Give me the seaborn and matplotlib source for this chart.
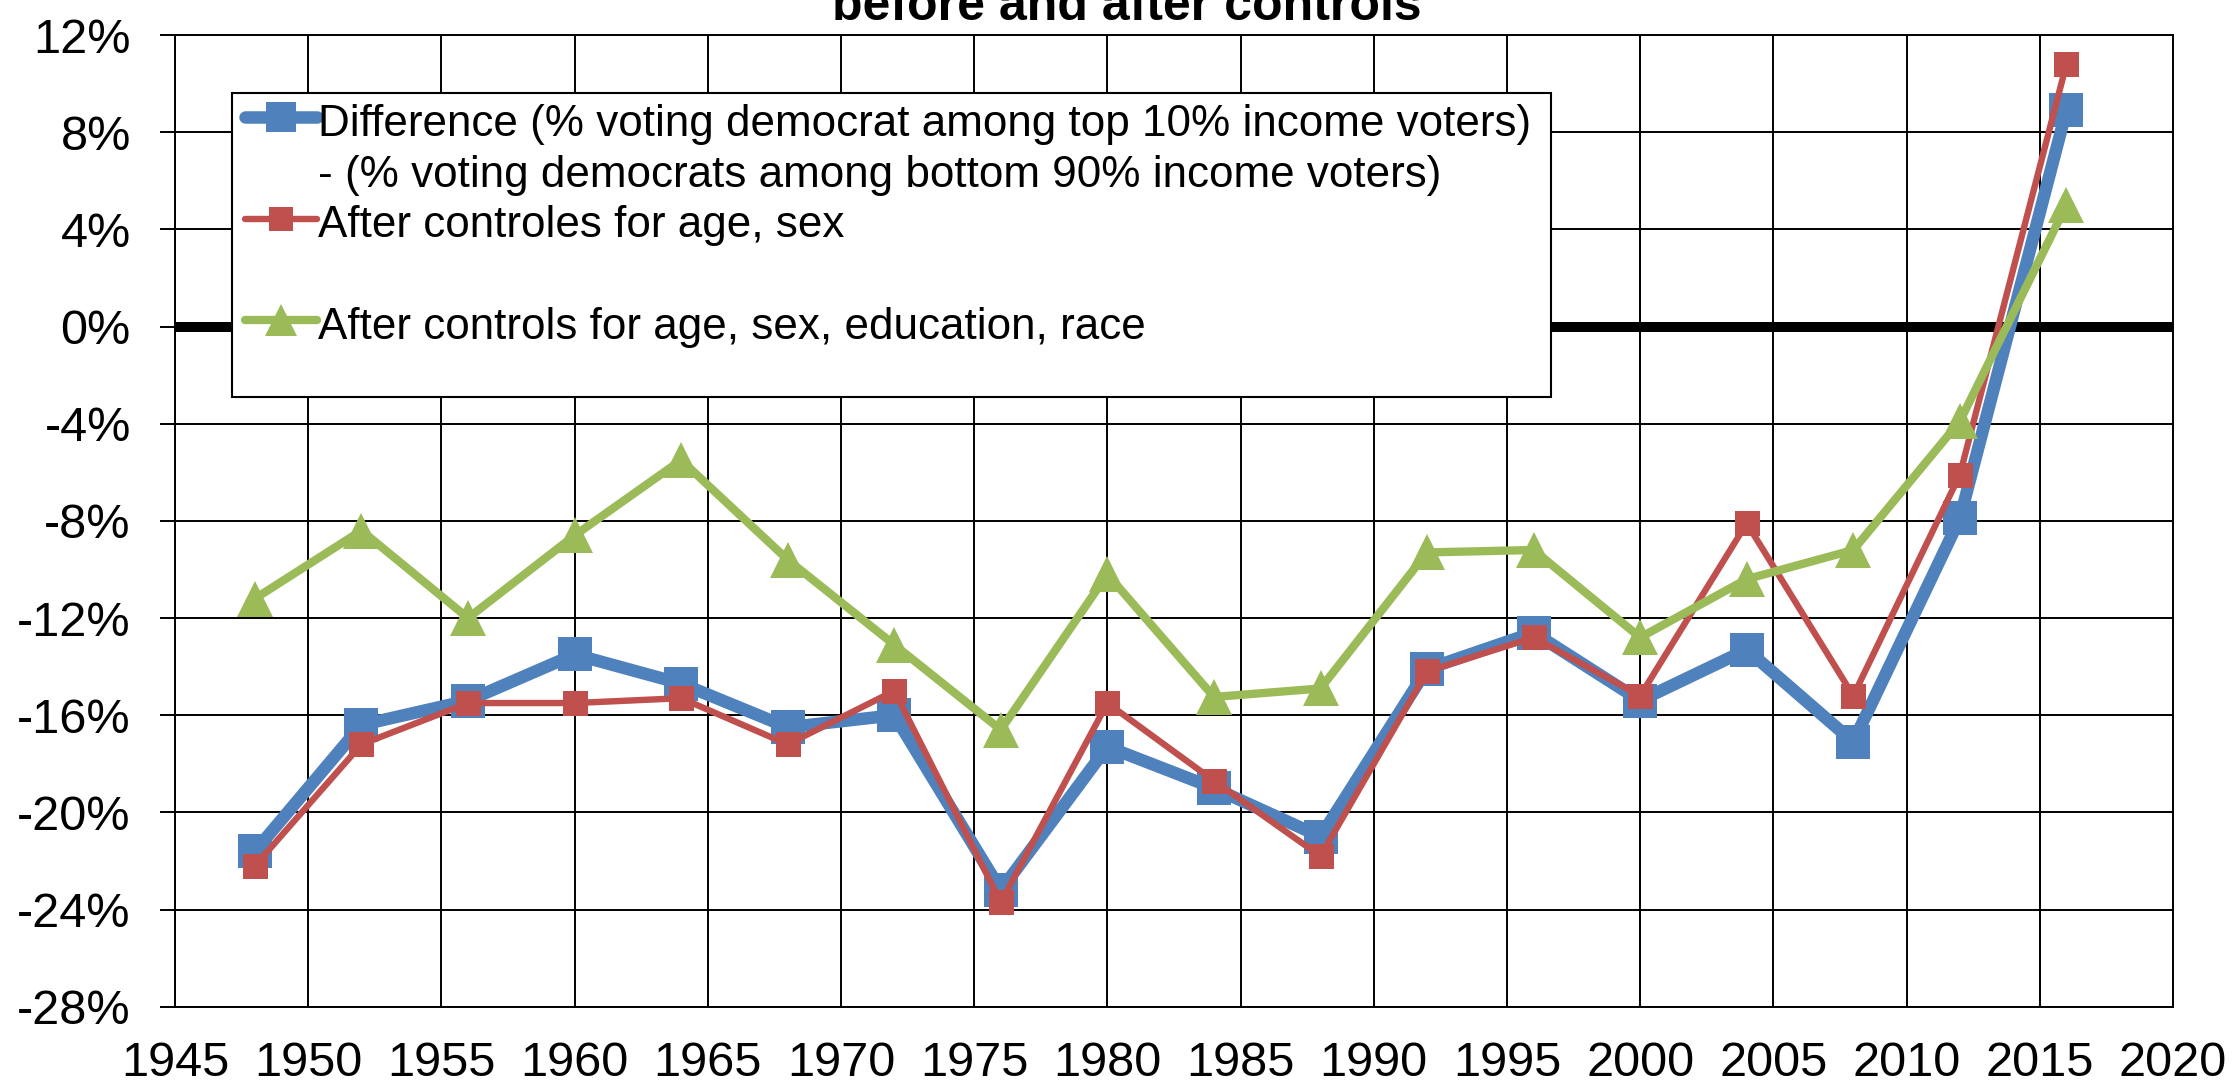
import matplotlib
matplotlib.use("Agg")
import matplotlib.pyplot as plt
import seaborn as sns
import pandas as pd
from matplotlib.lines import Line2D
from matplotlib.patches import Rectangle

# ---------------- data ----------------
years = [1948, 1952, 1956, 1960, 1964, 1968, 1972, 1976, 1980, 1984,
         1988, 1992, 1996, 2000, 2004, 2008, 2012, 2016]
diff_top10 = [-21.6, -16.4, -15.4, -13.5, -14.7, -16.5, -16.0, -23.2, -17.3, -19.0,
              -21.0, -14.1, -12.6, -15.4, -13.3, -17.1, -7.9, 8.9]
ctrl_age_sex = [-22.2, -17.2, -15.5, -15.5, -15.3, -17.2, -15.0, -23.7, -15.5, -18.7,
                -21.8, -14.2, -12.8, -15.2, -8.1, -15.2, -6.1, 10.8]
ctrl_full = [-11.2, -8.4, -12.0, -8.6, -5.5, -9.6, -13.1, -16.6, -10.2, -15.25,
             -14.9, -9.3, -9.2, -12.8, -10.4, -9.2, -3.9, 5.0]

series_labels = ["Difference (% voting democrat among top 10% income voters)",
                 "- (% voting democrats among bottom 90% income voters)",
                 "After controles for age, sex",
                 "After controls for age, sex, education, race"]
title_text = "before and after controls"

x_ticks = list(range(1945, 2021, 5))
y_ticks = list(range(-28, 13, 4))
y_tick_labels = [f"{v}%" for v in y_ticks]

# ---------------- style ----------------
sns.set_theme(style="white")
plt.rcParams["font.family"] = ["Liberation Sans", "DejaVu Sans"]
plt.rcParams["axes.unicode_minus"] = False
plt.rcParams["text.color"] = "black"

BLUE = "#4F81BD"
RED = "#C0504D"
GREEN = "#9BBB59"

fig = plt.figure(figsize=(22.36, 10.88), dpi=100)
ax = fig.add_axes([0.07826, 0.07472, 0.89356, 0.89311])

df = pd.DataFrame({"year": years, "diff": diff_top10, "age_sex": ctrl_age_sex, "full": ctrl_full})

styles = [
    ("diff", BLUE, 9.0, "s", 25, 3),
    ("age_sex", RED, 4.6, "s", 18, 4),
    ("full", GREEN, 6.0, "^", 26, 5),
]
for col, c, lw, m, ms, z in styles:
    sns.lineplot(data=df, x="year", y=col, ax=ax, color=c, linewidth=lw,
                 marker=m, markersize=ms, markeredgewidth=0, errorbar=None,
                 legend=False, zorder=z)

ax.axhline(0, color="black", lw=7.2, zorder=2)

ax.set_xlim(1945, 2020)
ax.set_ylim(-28, 12)
ax.set_xticks(x_ticks)
ax.set_xticklabels([str(v) for v in x_ticks])
ax.set_yticks(y_ticks)
ax.set_yticklabels(y_tick_labels)
ax.set_xlabel("")
ax.set_ylabel("")
ax.set_axisbelow(True)
ax.grid(True, color="black", lw=1.4)
for s in ax.spines.values():
    s.set_visible(True)
    s.set_color("black")
    s.set_linewidth(1.4)

ax.tick_params(axis="y", which="major", length=10.8, width=1.4, pad=21,
               labelsize=35, direction="out", color="black", left=True, labelcolor="black")
ax.tick_params(axis="x", which="major", length=0, pad=25, labelsize=35, labelcolor="black")

# legend box
ax.add_patch(Rectangle((0.02853, 0.6275), 0.6602, 0.3128, transform=ax.transAxes,
                       facecolor="white", edgecolor="black", lw=1.5, zorder=6))
blank = Line2D([], [], linestyle="none")
handles = [
    Line2D([], [], color=BLUE, lw=9.0, marker="s", ms=22, mew=0),
    blank,
    Line2D([], [], color=RED, lw=4.6, marker="s", ms=17, mew=0),
    blank,
    Line2D([], [], color=GREEN, lw=6.0, marker="^", ms=23, mew=0),
    blank,
]
labels = [series_labels[0], series_labels[1], series_labels[2], " ", series_labels[3], " "]
leg = ax.legend(handles, labels, loc="upper left", bbox_to_anchor=(0.03504, 0.9341),
                borderpad=0, borderaxespad=0, frameon=False, fontsize=31.7,
                handlelength=1.63, handletextpad=0.02, labelspacing=0.11,
                handleheight=1.16, numpoints=1)
leg.set_zorder(7)
for t in leg.get_texts():
    t.set_color("black")

fig.text(0.504, 1 - 20 / 1088, title_text, ha="center", va="baseline",
         fontsize=36, fontweight="bold", color="black")

fig.savefig("out.png", dpi=100)
